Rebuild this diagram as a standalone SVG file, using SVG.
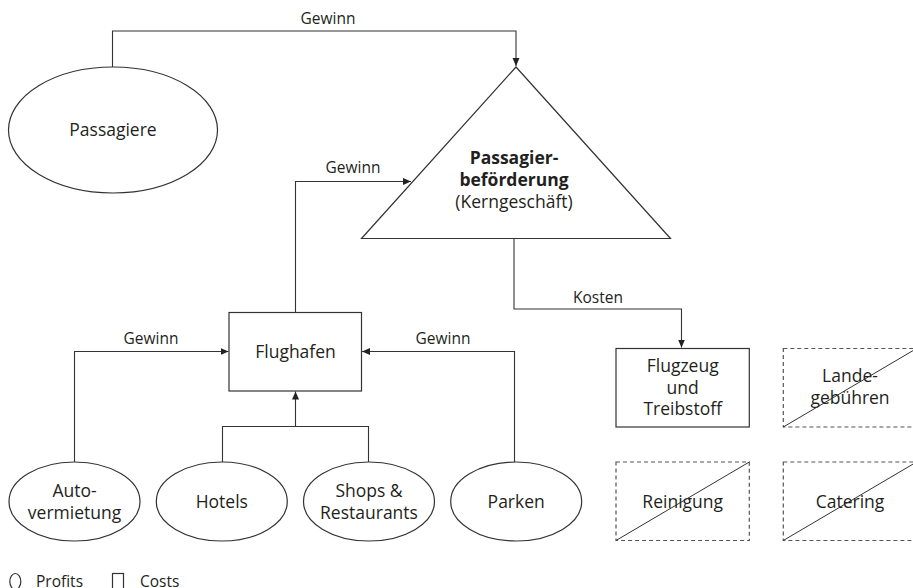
<svg xmlns="http://www.w3.org/2000/svg" width="913" height="588" viewBox="0 0 913 588">
  <defs>
    <marker id="arrow" markerUnits="userSpaceOnUse" markerWidth="9" markerHeight="8" refX="8" refY="3.5" orient="auto">
      <path d="M0,0 L8,3.5 L0,7 z" fill="#222"/>
    </marker>
    <style>
      text { font-family: "Open Sans", "Liberation Sans", sans-serif; fill: #231f20; }
      .node { font-size: 17.5px; text-anchor: middle; }
      .bold { font-weight: bold; }
      .lbl { font-size: 15.5px; text-anchor: middle; }
      .leg { font-size: 15.5px; }
      .shape { fill: #fff; stroke: #333; stroke-width: 1.2; }
      .dash { fill: none; stroke: #555; stroke-width: 1.2; stroke-dasharray: 4 3; }
      .diag { stroke: #333; stroke-width: 1; fill: none; }
      .conn { fill: none; stroke: #333; stroke-width: 1.1; }
    </style>
  </defs>
  <rect width="913" height="588" fill="#fff"/>

  <!-- connectors -->
  <g id="connectors">
    <path class="conn" d="M112.5,67 V31 H516 V66" marker-end="url(#arrow)"/>
    <path class="conn" d="M295.5,312 V181.5 H411" marker-end="url(#arrow)"/>
    <path class="conn" d="M514,238 V309 H681.5 V347.5" marker-end="url(#arrow)"/>
    <path class="conn" d="M74.5,462 V351.5 H228.5" marker-end="url(#arrow)"/>
    <path class="conn" d="M514.5,462 V351.5 H362" marker-end="url(#arrow)"/>
    <path class="conn" d="M222.5,462 V426.5 H368.5 V462"/>
    <path class="conn" d="M295.5,426.5 V391.5" marker-end="url(#arrow)"/>
    <text class="lbl" x="328" y="24">Gewinn</text>
    <text class="lbl" x="353" y="173">Gewinn</text>
    <text class="lbl" x="598" y="302.5">Kosten</text>
    <text class="lbl" x="151" y="344">Gewinn</text>
    <text class="lbl" x="443" y="344">Gewinn</text>
  </g>

  <g id="passagiere">
    <ellipse class="shape" cx="113" cy="130" rx="104.5" ry="63"/>
    <text class="node" x="113" y="136">Passagiere</text>
  </g>

  <g id="passagierbefoerderung">
    <polygon class="shape" points="516,67 670.5,238.5 361.5,238.5"/>
    <text class="node bold" x="514" y="164">Passagier-</text>
    <text class="node bold" x="514" y="186">beförderung</text>
    <text class="node" x="514" y="208">(Kerngeschäft)</text>
  </g>

  <g id="flughafen">
    <rect class="shape" x="229" y="312.5" width="132.5" height="78.5"/>
    <text class="node" x="295.5" y="357.5">Flughafen</text>
  </g>

  <g id="autovermietung">
    <ellipse class="shape" cx="74.5" cy="501.5" rx="65.5" ry="39.5"/>
    <text class="node" x="74.5" y="497">Auto-</text>
    <text class="node" x="74.5" y="518.5">vermietung</text>
  </g>

  <g id="hotels">
    <ellipse class="shape" cx="221.8" cy="501.5" rx="65.5" ry="39.5"/>
    <text class="node" x="221.8" y="508">Hotels</text>
  </g>

  <g id="shops">
    <ellipse class="shape" cx="369" cy="501.5" rx="65.5" ry="39.5"/>
    <text class="node" x="369" y="497">Shops &amp;</text>
    <text class="node" x="369" y="518.5">Restaurants</text>
  </g>

  <g id="parken">
    <ellipse class="shape" cx="516.2" cy="501.5" rx="65.5" ry="39.5"/>
    <text class="node" x="516.2" y="508">Parken</text>
  </g>

  <g id="flugzeug">
    <rect class="shape" x="616" y="348.5" width="133.3" height="78.5"/>
    <text class="node" x="682.7" y="372">Flugzeug</text>
    <text class="node" x="682.7" y="393.5">und</text>
    <text class="node" x="682.7" y="415">Treibstoff</text>
  </g>

  <g id="landegebuehren">
    <rect class="dash" x="783.3" y="348.5" width="133.3" height="78.5"/>
    <text class="node" x="850" y="382">Lande-</text>
    <text class="node" x="850" y="403.5">gebühren</text>
    <line class="diag" x1="783.3" y1="427" x2="916.6" y2="348.5"/>
  </g>

  <g id="reinigung">
    <rect class="dash" x="616" y="462" width="133.3" height="78.5"/>
    <text class="node" x="682.7" y="508">Reinigung</text>
    <line class="diag" x1="616" y1="540.5" x2="749.3" y2="462"/>
  </g>

  <g id="catering">
    <rect class="dash" x="783.3" y="462" width="133.3" height="78.5"/>
    <text class="node" x="850" y="508">Catering</text>
    <line class="diag" x1="783.3" y1="540.5" x2="916.6" y2="462"/>
  </g>

  <g id="legend">
    <ellipse class="shape" cx="15.3" cy="581.5" rx="5.5" ry="8"/>
    <text class="leg" x="36" y="587">Profits</text>
    <rect class="shape" x="112.5" y="573.5" width="11" height="16"/>
    <text class="leg" x="140" y="587">Costs</text>
  </g>
</svg>
